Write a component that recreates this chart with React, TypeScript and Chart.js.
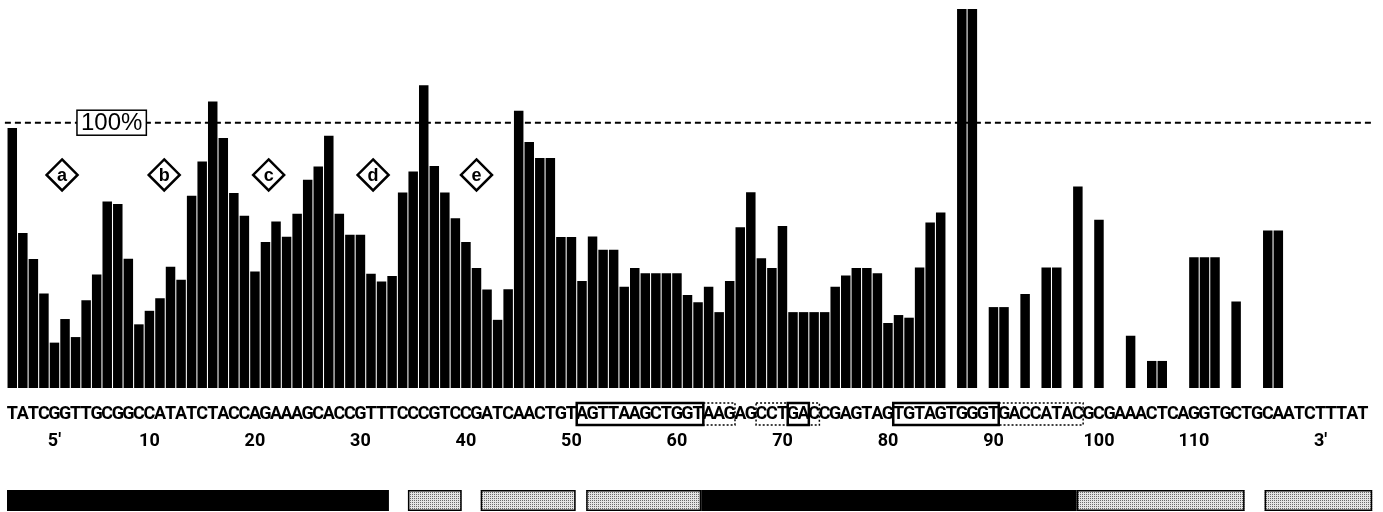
import React, { useEffect, useRef } from 'react';
import { Chart, registerables } from 'chart.js';

Chart.register(...registerables);

const sequence = 'TATCGGTTGCGGCCATATCTACCAGAAAGCACCGTTTCCCGTCCGATCAACTGTAGTTAAGCTGGTAAGAGCCTGACCGAGTAGTGTAGTGGGTGACCATACGCGAAACTCAGGTGCTGCAATCTTTAT'.split('');

const reactivity = [
  98.0, 58.4, 48.6, 35.6, 17.1, 26.0, 19.2, 33.1, 42.8, 70.3,
  69.4, 48.7, 24.0, 29.1, 33.8, 45.7, 40.8, 72.5, 85.4, 108.0,
  94.2, 73.5, 64.9, 43.9, 55.0, 62.8, 57.0, 65.7, 78.5, 83.5,
  95.1, 65.7, 57.8, 57.8, 43.1, 40.1, 42.2, 73.7, 81.6, 114.1,
  83.7, 73.7, 64.0, 55.0, 45.2, 37.1, 25.7, 37.2, 104.5, 92.7,
  86.7, 86.7, 56.9, 56.9, 40.3, 57.1, 52.1, 52.1, 38.2, 45.2,
  43.3, 43.3, 43.3, 43.3, 35.1, 32.3, 38.2, 28.6, 40.3, 60.6,
  73.8, 48.9, 45.2, 61.1, 28.6, 28.6, 28.6, 28.6, 38.2, 42.4,
  45.2, 45.2, 43.3, 24.5, 27.5, 26.5, 45.4, 62.4, 66.2, 0,
  142.9, 142.9, 0, 30.5, 30.5, 0, 35.4, 0, 45.4, 45.4,
  0, 76.0, 0, 63.4, 0, 0, 19.7, 0, 10.2, 10.2,
  0, 0, 49.3, 49.3, 49.3, 0, 32.6, 0, 0, 59.4,
  59.4, 0, 0, 0, 0, 0, 0, 0, 0,
];

// numbering row under the sequence (category index -> label)
const numberTickIndex = [4, 13, 23, 33, 43, 53, 63, 73, 83, 93, 103, 112, 124];
const numberTickLabels = ["5'", '10', '20', '30', '40', '50', '60', '70', '80', '90', '100', '110', "3'"];

const referenceLevel = 100;
const referenceLabel = '100%';
const referenceLabelAt = 9.42;

const regionLetters = ['a', 'b', 'c', 'd', 'e'];
const regionCenters = [4.72, 14.4, 24.3, 34.2, 44.0];
const regionLevel = 80.3;

// boxes around sequence letters (boundary units)
const seqBoxStart = [54, 66, 71, 74, 84, 94];
const seqBoxEnd = [66, 69, 77, 76, 94, 102];
const seqBoxKind = ['solid', 'dashed', 'dashed', 'solid', 'solid', 'dashed'];

// domain bar at the bottom (boundary units)
const domainStart = [0, 38, 44.9, 54.9, 65.8, 101.4, 119.2];
const domainEnd = [36.2, 43.1, 53.9, 65.8, 101.4, 117.3, 129.4];
const domainKind = ['solid', 'shade', 'shade', 'shade', 'solid', 'shade', 'shade'];

const LABEL_FONT = "'Liberation Sans Narrow', Roboto, 'Liberation Sans', sans-serif";
const TICK_PAD = 12.5;
const TICK_LINE = 27;

function makePattern(ctx: CanvasRenderingContext2D) {
  const pc = document.createElement('canvas');
  pc.width = 2;
  pc.height = 2;
  const p = pc.getContext('2d')!;
  p.fillStyle = '#e4e4e4';
  p.fillRect(0, 0, 2, 2);
  p.fillStyle = '#6a6a6a';
  p.fillRect(0, 0, 1, 1);
  return ctx.createPattern(pc, 'repeat') || '#c4c4c4';
}

const referencePlugin = {
  id: 'referenceLine',
  beforeDatasetsDraw(chart: any) {
    const { ctx, scales } = chart;
    const x = scales.x;
    const y = scales.y;
    const bx = (b: number) => x.getPixelForValue(b - 0.5);
    const yRef = y.getPixelForValue(referenceLevel);
    ctx.save();
    ctx.strokeStyle = '#000';
    ctx.lineWidth = 2;
    ctx.setLineDash([6, 4]);
    ctx.beginPath();
    ctx.moveTo(bx(-0.2), yRef);
    ctx.lineTo(bx(129.4), yRef);
    ctx.stroke();
    ctx.restore();
  },
};

const overlayPlugin = {
  id: 'overlay',
  afterDatasetsDraw(chart: any) {
    const { ctx, scales, chartArea } = chart;
    const x = scales.x;
    const y = scales.y;
    const bx = (b: number) => x.getPixelForValue(b - 0.5);
    ctx.save();

    // 100% label box
    const yRef = y.getPixelForValue(referenceLevel);
    const cx = x.getPixelForValue(referenceLabelAt);
    ctx.font = "24px 'Liberation Sans', Arial, sans-serif";
    const tw = ctx.measureText(referenceLabel).width;
    const bw = tw + 8;
    const bh = 25;
    ctx.fillStyle = '#fff';
    ctx.fillRect(cx - bw / 2, yRef - bh / 2, bw, bh);
    ctx.strokeStyle = '#000';
    ctx.lineWidth = 1.5;
    ctx.setLineDash([]);
    ctx.strokeRect(cx - bw / 2, yRef - bh / 2, bw, bh);
    ctx.fillStyle = '#000';
    ctx.textAlign = 'center';
    ctx.textBaseline = 'middle';
    ctx.fillText(referenceLabel, cx, yRef + 1);

    // region diamonds
    const dy = y.getPixelForValue(regionLevel);
    regionLetters.forEach((letter, i) => {
      const dx = x.getPixelForValue(regionCenters[i]);
      const r = 15.5;
      ctx.beginPath();
      ctx.moveTo(dx, dy - r);
      ctx.lineTo(dx + r, dy);
      ctx.lineTo(dx, dy + r);
      ctx.lineTo(dx - r, dy);
      ctx.closePath();
      ctx.fillStyle = '#fff';
      ctx.fill();
      ctx.lineWidth = 2.5;
      ctx.strokeStyle = '#000';
      ctx.stroke();
      ctx.fillStyle = '#000';
      ctx.font = "bold 18px 'Liberation Sans', Arial, sans-serif";
      ctx.fillText(letter, dx, dy + 1);
    });

    // boxes around sequence letters
    const yL = chartArea.bottom + TICK_PAD + TICK_LINE / 2;
    seqBoxStart.forEach((s, i) => {
      const x0 = bx(s);
      const x1 = bx(seqBoxEnd[i]);
      if (seqBoxKind[i] === 'solid') {
        ctx.setLineDash([]);
        ctx.lineWidth = 2.5;
      } else {
        ctx.setLineDash([2, 2]);
        ctx.lineWidth = 1.5;
      }
      ctx.strokeStyle = '#000';
      ctx.strokeRect(x0, yL - 11, x1 - x0, 22);
    });
    ctx.setLineDash([]);

    // domain bars at the bottom
    const pattern = makePattern(ctx);
    const y0 = chart.height - 22;
    const h = 21;
    domainStart.forEach((s, i) => {
      const x0 = bx(s);
      const x1 = bx(domainEnd[i]);
      if (domainKind[i] === 'solid') {
        ctx.fillStyle = '#000';
        ctx.fillRect(x0, y0, x1 - x0, h);
      } else {
        ctx.fillStyle = pattern;
        ctx.fillRect(x0, y0, x1 - x0, h);
        ctx.lineWidth = 1.5;
        ctx.strokeStyle = '#000';
        ctx.strokeRect(x0 + 0.75, y0 + 0.75, x1 - x0 - 1.5, h - 1.5);
      }
    });
    ctx.restore();
  },
};

export default function App() {
  const ref = useRef<HTMLCanvasElement | null>(null);

  useEffect(() => {
    document.body.style.margin = '0';
    if (!ref.current) return;
    const chart = new Chart(ref.current, {
      type: 'bar',
      data: {
        labels: sequence,
        datasets: [
          {
            data: reactivity,
            backgroundColor: '#000',
            borderWidth: 0,
            barPercentage: 0.9,
            categoryPercentage: 1,
          },
        ],
      },
      options: {
        responsive: false,
        animation: false,
        layout: { padding: { left: 7, right: 15, top: 6, bottom: 0 } },
        plugins: {
          legend: { display: false },
          tooltip: { enabled: false },
          title: { display: false },
        },
        scales: {
          x: {
            type: 'category',
            offset: true,
            grid: { display: false, drawTicks: false },
            border: { display: false },
            ticks: {
              autoSkip: false,
              maxRotation: 0,
              minRotation: 0,
              padding: TICK_PAD,
              color: '#000',
              font: { family: LABEL_FONT, size: 18, weight: 'bold', lineHeight: TICK_LINE / 18 },
              callback: (_v: any, i: number) => {
                const j = numberTickIndex.indexOf(i);
                return [sequence[i], j >= 0 ? numberTickLabels[j] : ''];
              },
            },
            afterFit: (s: any) => {
              s.height = 124;
              s.paddingLeft = 0;
              s.paddingRight = 0;
            },
          },
          y: { display: false, min: 0, max: 144 },
        },
      },
      plugins: [referencePlugin, overlayPlugin],
    } as any);
    return () => chart.destroy();
  }, []);

  return (
    <div style={{ width: 1383, height: 512, overflow: 'hidden' }}>
      <canvas ref={ref} width={1383} height={512} style={{ display: 'block' }} />
    </div>
  );
}
